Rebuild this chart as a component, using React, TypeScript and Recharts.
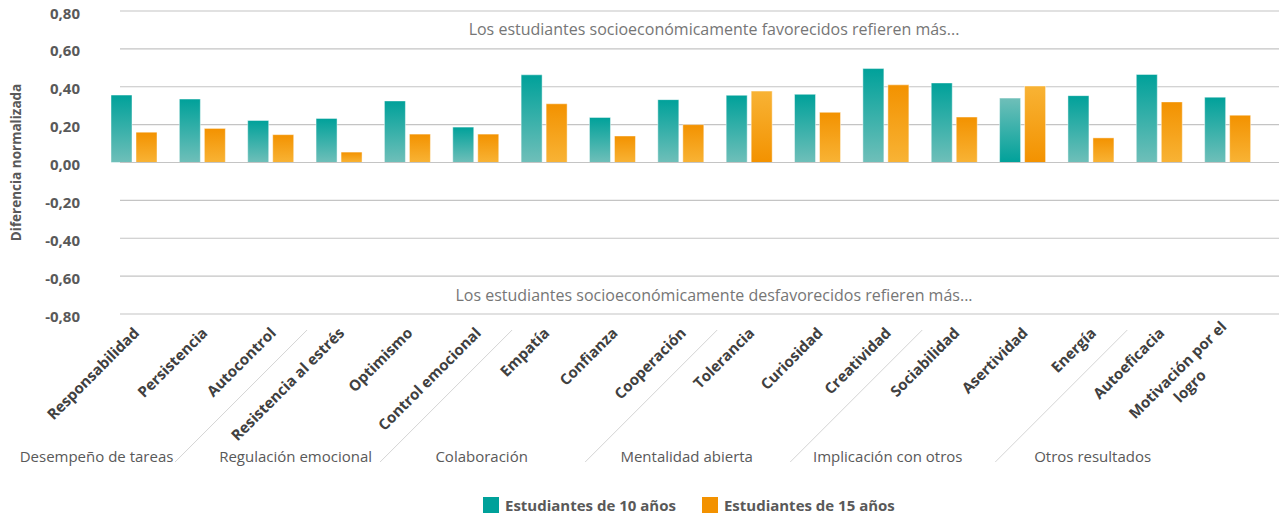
import React from 'react';
import { BarChart, Bar, XAxis, YAxis, CartesianGrid, ReferenceLine, Legend, Cell } from 'recharts';

const categories = [
  'Responsabilidad', 'Persistencia', 'Autocontrol', 'Resistencia al estrés', 'Optimismo',
  'Control emocional', 'Empatía', 'Confianza', 'Cooperación', 'Tolerancia', 'Curiosidad',
  'Creatividad', 'Sociabilidad', 'Asertividad', 'Energía', 'Autoeficacia', 'Motivación por el logro',
];
const age10 = [0.356, 0.335, 0.222, 0.233, 0.325, 0.187, 0.463, 0.238, 0.332, 0.355, 0.360, 0.496, 0.420, 0.340, 0.353, 0.465, 0.345];
const age15 = [0.160, 0.180, 0.147, 0.055, 0.150, 0.150, 0.310, 0.140, 0.200, 0.377, 0.265, 0.410, 0.240, 0.404, 0.130, 0.320, 0.250];
// categories whose bars are drawn with the inverted gradient in the original
const inverted10 = ['Asertividad'];
const inverted15 = ['Tolerancia', 'Asertividad'];

const groupNames = ['Desempeño de tareas', 'Regulación emocional', 'Colaboración', 'Mentalidad abierta', 'Implicación con otros', 'Otros resultados'];
const groupSizes = [3, 3, 3, 3, 3, 2];

const yTicks = [-0.8, -0.6, -0.4, -0.2, 0, 0.2, 0.4, 0.6, 0.8];
const seriesNames = ['Estudiantes de 10 años', 'Estudiantes de 15 años'];
const topNote = 'Los estudiantes socioeconómicamente favorecidos refieren más...';
const bottomNote = 'Los estudiantes socioeconómicamente desfavorecidos refieren más...';
const yTitle = 'Diferencia normalizada';

const data = categories.map((c, i) => ({ name: c, a10: age10[i], a15: age15[i] }));

const FONT = '"Open Sans", "Noto Sans", sans-serif';
const TEAL = '#00A19A';
const ORANGE = '#F39200';

// group start indices
const groupStarts: number[] = [];
{
  let s = 0;
  for (const g of groupSizes) { groupStarts.push(s); s += g; }
}
const groupLabelAdjust = [25, 19, 0, 0, -4, 30];

const fmt = (v: number) => v.toFixed(2).replace('.', ',');

function wrapLabel(s: string): string[] {
  if (s.length <= 21) return [s];
  const words = s.split(' ');
  const lines: string[] = [];
  let cur = '';
  for (const w of words) {
    const next = cur ? cur + ' ' + w : w;
    if (next.length > 18 && cur) { lines.push(cur); cur = w; } else cur = next;
  }
  if (cur) lines.push(cur);
  return lines;
}

const XTick = (props: any) => {
  const { x, y, payload, index, width } = props;
  const band = width / categories.length;
  const lines = wrapLabel(String(payload.value));
  const ax = x + 6;
  const ay = y + 20;
  const gIdx = groupStarts.indexOf(index);
  const items: any[] = [];
  if (lines.length === 1) {
    items.push(
      <g key="lab" transform={`translate(${ax},${ay}) rotate(-45)`}>
        <text textAnchor="end" fontFamily={FONT} fontSize={15} fontWeight={700} fill="#404040">{lines[0]}</text>
      </g>
    );
  } else {
    const w1 = lines[0].length * 8;
    items.push(
      <g key="lab" transform={`translate(${ax},${ay}) rotate(-45)`}>
        <text x={0} y={-9} textAnchor="end" fontFamily={FONT} fontSize={15} fontWeight={700} fill="#404040">{lines[0]}</text>
        {lines.slice(1).map((l, k) => (
          <text key={k} x={-w1 / 2} y={-9 + 20 * (k + 1)} textAnchor="middle" fontFamily={FONT} fontSize={15} fontWeight={700} fill="#404040">{l}</text>
        ))}
      </g>
    );
  }
  if (gIdx >= 0) {
    const b0 = x - band / 2;
    if (gIdx > 0) {
      items.push(<line key="sep" x1={b0 + 2} y1={y + 16} x2={b0 - 130} y2={y + 148} stroke="#d4d4d4" strokeWidth={1} />);
    }
    const size = groupSizes[gIdx];
    const mid = x + band * (size - 1) / 2;
    items.push(
      <text key="grp" x={mid - 131 + groupLabelAdjust[gIdx]} y={y + 148} textAnchor="middle" fontFamily={FONT} fontSize={15} fill="#595959">
        {groupNames[gIdx]}
      </text>
    );
  }
  return <g>{items}</g>;
};

const YTick = (props: any) => {
  const { x, y, payload } = props;
  return (
    <text x={x} y={y} dy={7.5} textAnchor="end" fontFamily={FONT} fontSize={15} fontWeight={700} fill="#595959">
      {fmt(payload.value)}
    </text>
  );
};

const LegendContent = () => (
  <div style={{ display: 'flex', alignItems: 'center', height: 24, paddingLeft: 483, fontFamily: FONT, fontSize: 15, fontWeight: 700, color: '#595959' }}>
    {seriesNames.map((n, i) => (
      <div key={n} style={{ display: 'flex', alignItems: 'center', marginRight: 26 }}>
        <div style={{ width: 16, height: 16, background: i === 0 ? TEAL : ORANGE, marginRight: 6 }} />
        <span style={{ whiteSpace: 'nowrap' }}>{n}</span>
      </div>
    ))}
  </div>
);

const NoteLabel = (text: string) => (p: any) => {
  const vb = p.viewBox;
  return (
    <text x={vb.x + vb.width / 2 + 33} y={vb.y} dy={5.5} textAnchor="middle" fontFamily={FONT} fontSize={16} fill="#767676">
      {text}
    </text>
  );
};

const ZeroLine = (p: any) => (
  <line x1={p.x1 + 20} y1={p.y1} x2={p.x2 + 17} y2={p.y2} stroke="#c4c4c4" strokeWidth={1.2} />
);

export default function App() {
  return (
    <div style={{ position: 'absolute', left: 0, top: 0, background: '#fff' }}>
      <BarChart
        width={1279}
        height={517}
        data={data}
        margin={{ top: 11, right: 17, left: 0, bottom: 0 }}
        barSize={21}
        barGap={4}
      >
        <defs>
          <linearGradient id="gTeal" x1="0" y1="0" x2="0" y2="1">
            <stop offset="0%" stopColor="#00A19A" />
            <stop offset="100%" stopColor="#6FBFB9" />
          </linearGradient>
          <linearGradient id="gTealInv" x1="0" y1="0" x2="0" y2="1">
            <stop offset="0%" stopColor="#6FBFB9" />
            <stop offset="100%" stopColor="#00A19A" />
          </linearGradient>
          <linearGradient id="gOrange" x1="0" y1="0" x2="0" y2="1">
            <stop offset="0%" stopColor="#F39200" />
            <stop offset="100%" stopColor="#F8B335" />
          </linearGradient>
          <linearGradient id="gOrangeInv" x1="0" y1="0" x2="0" y2="1">
            <stop offset="0%" stopColor="#F8B335" />
            <stop offset="100%" stopColor="#F39200" />
          </linearGradient>
        </defs>
        <CartesianGrid horizontal vertical={false} stroke="#c4c4c4" strokeWidth={1.2} x={120} width={1159} />
        <XAxis
          dataKey="name"
          interval={0}
          tick={<XTick />}
          tickLine={false}
          axisLine={false}
          tickSize={0}
          tickMargin={0}
          height={179}
        />
        <YAxis
          domain={[-0.8, 0.8]}
          ticks={yTicks}
          tick={<YTick />}
          tickLine={false}
          axisLine={false}
          tickSize={0}
          tickMargin={20}
          width={100}
          label={{
            value: yTitle,
            content: (p: any) => {
              const vb = p.viewBox;
              const cx = vb.x + 16;
              const cy = vb.y + vb.height / 2;
              return (
                <text x={cx} y={cy} transform={`rotate(-90, ${cx}, ${cy})`} textAnchor="middle" dominantBaseline="central" fontFamily={FONT} fontSize={13.5} fontWeight={700} fill="#595959">
                  {yTitle}
                </text>
              );
            },
          }}
        />
        <Legend verticalAlign="bottom" height={24} content={<LegendContent />} />
        <ReferenceLine y={0.7} stroke="none" label={NoteLabel(topNote)} />
        <ReferenceLine y={-0.7} stroke="none" label={NoteLabel(bottomNote)} />
        <Bar dataKey="a10" name={seriesNames[0]} fill={TEAL} stroke="rgba(255,255,255,0.45)" strokeWidth={1} isAnimationActive={false}>
          {categories.map((c) => (
            <Cell key={c} fill={inverted10.includes(c) ? 'url(#gTealInv)' : 'url(#gTeal)'} />
          ))}
        </Bar>
        <Bar dataKey="a15" name={seriesNames[1]} fill={ORANGE} stroke="rgba(255,255,255,0.45)" strokeWidth={1} isAnimationActive={false}>
          {categories.map((c) => (
            <Cell key={c} fill={inverted15.includes(c) ? 'url(#gOrangeInv)' : 'url(#gOrange)'} />
          ))}
        </Bar>
        <ReferenceLine y={0} shape={<ZeroLine />} />
      </BarChart>
    </div>
  );
}
